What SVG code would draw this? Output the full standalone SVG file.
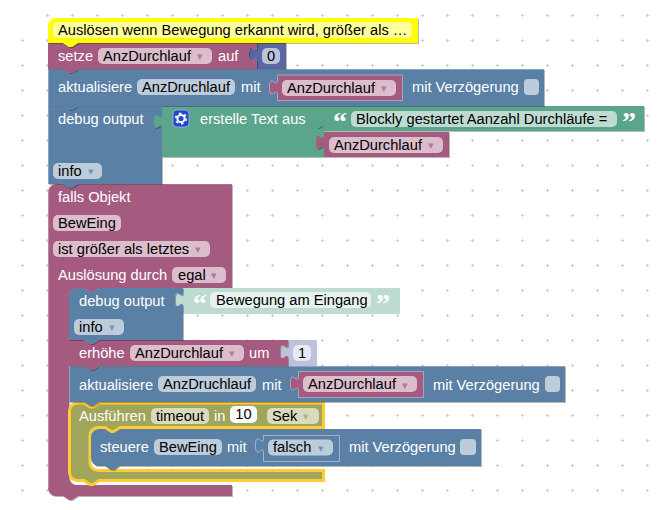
<svg xmlns="http://www.w3.org/2000/svg" width="668" height="510" viewBox="0 0 668 510">
<style>
text{font-family:"Liberation Sans",Arial,sans-serif;font-size:14.67px}
.w{fill:#fff}
.k{fill:#000}
.b{filter:drop-shadow(1px 1px 0 rgba(0,0,0,.28))}
.hl{fill:none;stroke:#fff;stroke-opacity:.28;stroke-width:1}
.pu{fill:#a55b80}.bl{fill:#5b80a5}.gr{fill:#5ba58c}.in{fill:#5b67a5}
.fpu{fill:#dbbdcc}.fbl{fill:#bdccdb}.fgr{fill:#bddbd1}.fin{fill:#bdc2db}.fol{fill:#d9dbbd}
.ar{font-family:"DejaVu Sans",sans-serif;font-size:11px;fill-opacity:.7}
.apu{fill:#a55b80}.abl{fill:#5b80a5}.aol{fill:#9fa55b}
.q{font-family:"Liberation Serif",serif;font-size:28px;font-weight:bold;fill:#fff}
</style>
<defs>
<pattern id="grid" x="0" y="0" width="25" height="25" patternUnits="userSpaceOnUse">
<rect x="21" y="15" width="3" height="1" fill="#ccc"/>
<rect x="22" y="14" width="1" height="3" fill="#ccc"/>
</pattern>
</defs>
<rect width="668" height="510" fill="#fff"/>
<rect x="20" y="39" width="25" height="455" fill="url(#grid)"/>
<rect x="45" y="14" width="607" height="480" fill="url(#grid)"/>

<g id="falls-objekt">
<path class="b pu" d="M48,192a8,8 0 0 1 8,-8H232V288H99l-6,4h-3l-6,-4H77a8,8 0 0 0 -8,8V477a8,8 0 0 0 8,8H232V496H78l-6,4h-3l-6,-4H56a8,8 0 0 1 -8,-8Z"/>
<path class="hl" d="M48.500,488V192a8,8 0 0 1 8,-8H231"/>
<text class="w" x="58" y="202">falls Objekt</text>
<rect class="fpu" x="53" y="215" width="68" height="16" rx="5"/><text class="k" x="58" y="228">BewEing</text>
<rect class="fpu" x="53" y="241" width="157" height="16" rx="5"/><text class="k" x="58" y="254">ist größer als letztes</text><text class="ar apu" x="195" y="253">▾</text>
<text class="w" x="58" y="280">Auslösung durch</text>
<rect class="fpu" x="172" y="267" width="54" height="16" rx="5"/><text class="k" x="178" y="280">egal</text><text class="ar apu" x="211" y="279">▾</text>
</g>

<g id="ausfuehren">
<path d="M69.500,411a8,8 0 0 1 8,-8H84l6,4h3l6,-4H323.500V427.500H120l-6,4h-3l-6,-4H98a8,8 0 0 0 -8,8V462.500a8,8 0 0 0 8,8H323.500V480.500H99l-6,4h-3l-6,-4H77.500a8,8 0 0 1 -8,-8Z" fill="#9fa55b" stroke="#fc3" stroke-width="3"/>
<text class="w" x="79" y="421">Ausführen</text>
<rect class="fol" x="151" y="408" width="58" height="16" rx="5"/><text class="k" x="156" y="421">timeout</text>
<text class="w" x="214" y="421">in</text>
<rect class="w" x="230" y="406" width="27" height="17" rx="5"/><text class="k" x="243.500" y="419" text-anchor="middle">10</text>
<rect class="fol" x="267" y="408" width="52" height="16" rx="5"/><text class="k" x="272" y="421">Sek</text><text class="ar aol" x="303" y="420">▾</text>
</g>

<g id="steuere">
<path class="b bl" d="M91,437a8,8 0 0 1 8,-8H105l6,4h3l6,-4H481V466H120l-6,4h-3l-6,-4H99a8,8 0 0 1 -8,-8Z"/>
<text class="w" x="100" y="452">steuere</text>
<rect class="fbl" x="154" y="439" width="68" height="16" rx="5"/><text class="k" x="159" y="452">BewEing</text>
<text class="w" x="227" y="452">mit</text>
<path class="bl" d="M263.500,435.500H339.500V461.500H263.500V453c0,-10 -8,8 -8,-7.500s8,2.500 8,-7.500Z" stroke="#bdccdb" stroke-width="1" stroke-opacity=".7"/>
<rect class="fbl" x="268" y="439.500" width="65" height="16" rx="5"/><text class="k" x="273" y="452">falsch</text><text class="ar abl" x="318" y="452">▾</text>
<text class="w" x="349" y="452">mit Verzögerung</text>
<rect class="fbl" x="460" y="439" width="16" height="16" rx="4"/>
</g>

<g id="aktualisiere-2">
<path class="b bl" d="M69,366H84l6,4h3l6,-4H565V402H99l-6,4h-3l-6,-4H69Z"/>
<path class="hl" d="M69.500,402V366.500H84M99,366.500H565"/>
<text class="w" x="79" y="390">aktualisiere</text>
<rect class="fbl" x="158" y="376" width="98" height="16" rx="5"/><text class="k" x="163" y="389">AnzDruchlauf</text>
<text class="w" x="262" y="390">mit</text>
<path class="pu" d="M298.500,371.500H423.500V397.500H298.500V391c0,-10 -8,8 -8,-7.500s8,2.500 8,-7.500Z" stroke="#bdccdb" stroke-width="1" stroke-opacity=".6"/>
<rect class="fpu" x="303" y="376" width="114" height="16" rx="5"/><text class="k" x="308" y="389">AnzDurchlauf</text><text class="ar apu" x="402" y="389">▾</text>
<text class="w" x="433" y="390">mit Verzögerung</text>
<rect class="fbl" x="545" y="376" width="15" height="16" rx="4"/>
</g>

<g id="erhoehe">
<path class="fin" d="M288,340H317V366H288V359c0,-10 -8,8 -8,-7.500s8,2.500 8,-7.500Z"/>
<path class="b pu" d="M69,340H84l6,4h3l6,-4H288V344c0,10 -8,-8 -8,7.500s8,-2.500 8,7.500V366H99l-6,4h-3l-6,-4H69Z"/>
<text class="w" x="79" y="358">erhöhe</text>
<rect class="fpu" x="130" y="345" width="114" height="16" rx="5"/><text class="k" x="135" y="358">AnzDurchlauf</text><text class="ar apu" x="229" y="357">▾</text>
<text class="w" x="249" y="358">um</text>
<rect x="293" y="345" width="18" height="16" rx="5" fill="#e6e8f2"/><text class="k" x="302" y="358" text-anchor="middle">1</text>
</g>

<g id="debug-output-2">
<path class="fgr" d="M183,288H400V314H183V307c0,-10 -8,8 -8,-7.500s8,2.500 8,-7.500Z"/>
<path class="b bl" d="M69,296a8,8 0 0 1 8,-8H84l6,4h3l6,-4H183V292c0,10 -8,-8 -8,7.500s8,-2.500 8,7.500V340H99l-6,4h-3l-6,-4H69Z"/>
<text class="w" x="79" y="306">debug output</text>
<rect class="fbl" x="74" y="319" width="50" height="16" rx="5"/><text class="k" x="79" y="332">info</text><text class="ar abl" x="109" y="331">▾</text>
<text class="q" x="193" y="313">“</text>
<rect x="210" y="292" width="161" height="16" rx="5" fill="#e6f2ee"/><text class="k" x="216" y="305">Bewegung am Eingang</text>
<text class="q" x="376" y="313">”</text>
</g>

<g id="debug-output-1">
<path class="b bl" d="M48,106H63l6,4h3l6,-4H162V184H78l-6,4h-3l-6,-4H48Z"/>
<path class="hl" d="M48.500,184V106.500H63M78,106.500H162"/>
<text class="w" x="58" y="124">debug output</text>
<rect class="fbl" x="53" y="163" width="49" height="16" rx="5"/><text class="k" x="58" y="176">info</text><text class="ar abl" x="88" y="175">▾</text>
<path class="b gr" d="M162,106H324V157H162V129c0,-10 -8,8 -8,-7.500s8,2.500 8,-7.500Z"/>
<rect x="173" y="110" width="16" height="17" rx="4" fill="#2448cc" stroke="#9fb4e8" stroke-width=".8"/>
<circle cx="181" cy="118.500" r="3.600" fill="none" stroke="#fff" stroke-width="2"/>
<circle cx="181" cy="118.500" r="5.300" fill="none" stroke="#fff" stroke-width="1.600" stroke-dasharray="2.500 3.050"/>
<text class="w" x="200" y="124">erstelle Text aus</text>
</g>

<g id="text-blockly">
<path class="b gr" d="M324,106H644V131H324V129c0,-10 -8,8 -8,-7.500s8,2.500 8,-7.500Z"/>
<text class="q" x="333" y="131">“</text>
<rect class="fgr" x="351" y="111" width="266" height="16" rx="5"/><text class="k" x="356" y="124">Blockly gestartet Aanzahl Durchläufe =</text>
<text class="q" x="622" y="131">”</text>
</g>

<g id="anzdurchlauf-text">
<path class="b pu" d="M324,132H449V157H324V150c0,-10 -8,8 -8,-7.500s8,2.500 8,-7.500Z"/>
<rect class="fpu" x="329" y="137" width="114" height="16" rx="5"/><text class="k" x="334" y="150">AnzDurchlauf</text><text class="ar apu" x="428" y="149">▾</text>
</g>

<g id="aktualisiere-1">
<path class="b bl" d="M48,69H63l6,4h3l6,-4H544V106H78l-6,4h-3l-6,-4H48Z"/>
<path class="hl" d="M48.500,106V69.500H63M78,69.500H544"/>
<text class="w" x="58" y="92">aktualisiere</text>
<rect class="fbl" x="137" y="79" width="98" height="16" rx="5"/><text class="k" x="142" y="92">AnzDruchlauf</text>
<text class="w" x="241" y="92">mit</text>
<path class="pu" d="M277.500,75H402.500V100.500H277.500V95c0,-10 -8,8 -8,-7.500s8,2.500 8,-7.500Z" stroke="#bdccdb" stroke-width="1" stroke-opacity=".6"/>
<rect class="fpu" x="282" y="80" width="114" height="16" rx="5"/><text class="k" x="287" y="93">AnzDurchlauf</text><text class="ar apu" x="381" y="92">▾</text>
<text class="w" x="412" y="92">mit Verzögerung</text>
<rect class="fbl" x="524" y="79" width="15" height="16" rx="4"/>
</g>

<g id="setze">
<path class="b in" d="M257,43H286V69H257V62c0,-10 -8,8 -8,-7.500s8,2.500 8,-7.500Z"/>
<path class="b pu" d="M48,43H63l6,4h3l6,-4H257V47c0,10 -8,-8 -8,7.500s8,-2.500 8,7.500V69H78l-6,4h-3l-6,-4H48Z"/>
<text class="w" x="58" y="61">setze</text>
<rect class="fpu" x="98" y="48" width="114" height="16" rx="5"/><text class="k" x="103" y="61">AnzDurchlauf</text><text class="ar apu" x="197" y="60">▾</text>
<text class="w" x="218" y="61">auf</text>
<rect class="fin" x="262" y="48" width="18" height="16" rx="5"/><text class="k" x="271" y="61" text-anchor="middle">0</text>
</g>

<g id="ausloesen">
<path class="b" fill="#ff0" d="M48,26a8,8 0 0 1 8,-8H418V43H78l-6,4h-3l-6,-4H48Z"/>
<rect x="53" y="22" width="359" height="16" rx="5" fill="#ffff9c"/>
<text class="k" x="58" y="35">Auslösen wenn Bewegung erkannt wird, größer als …</text>
</g>
</svg>
